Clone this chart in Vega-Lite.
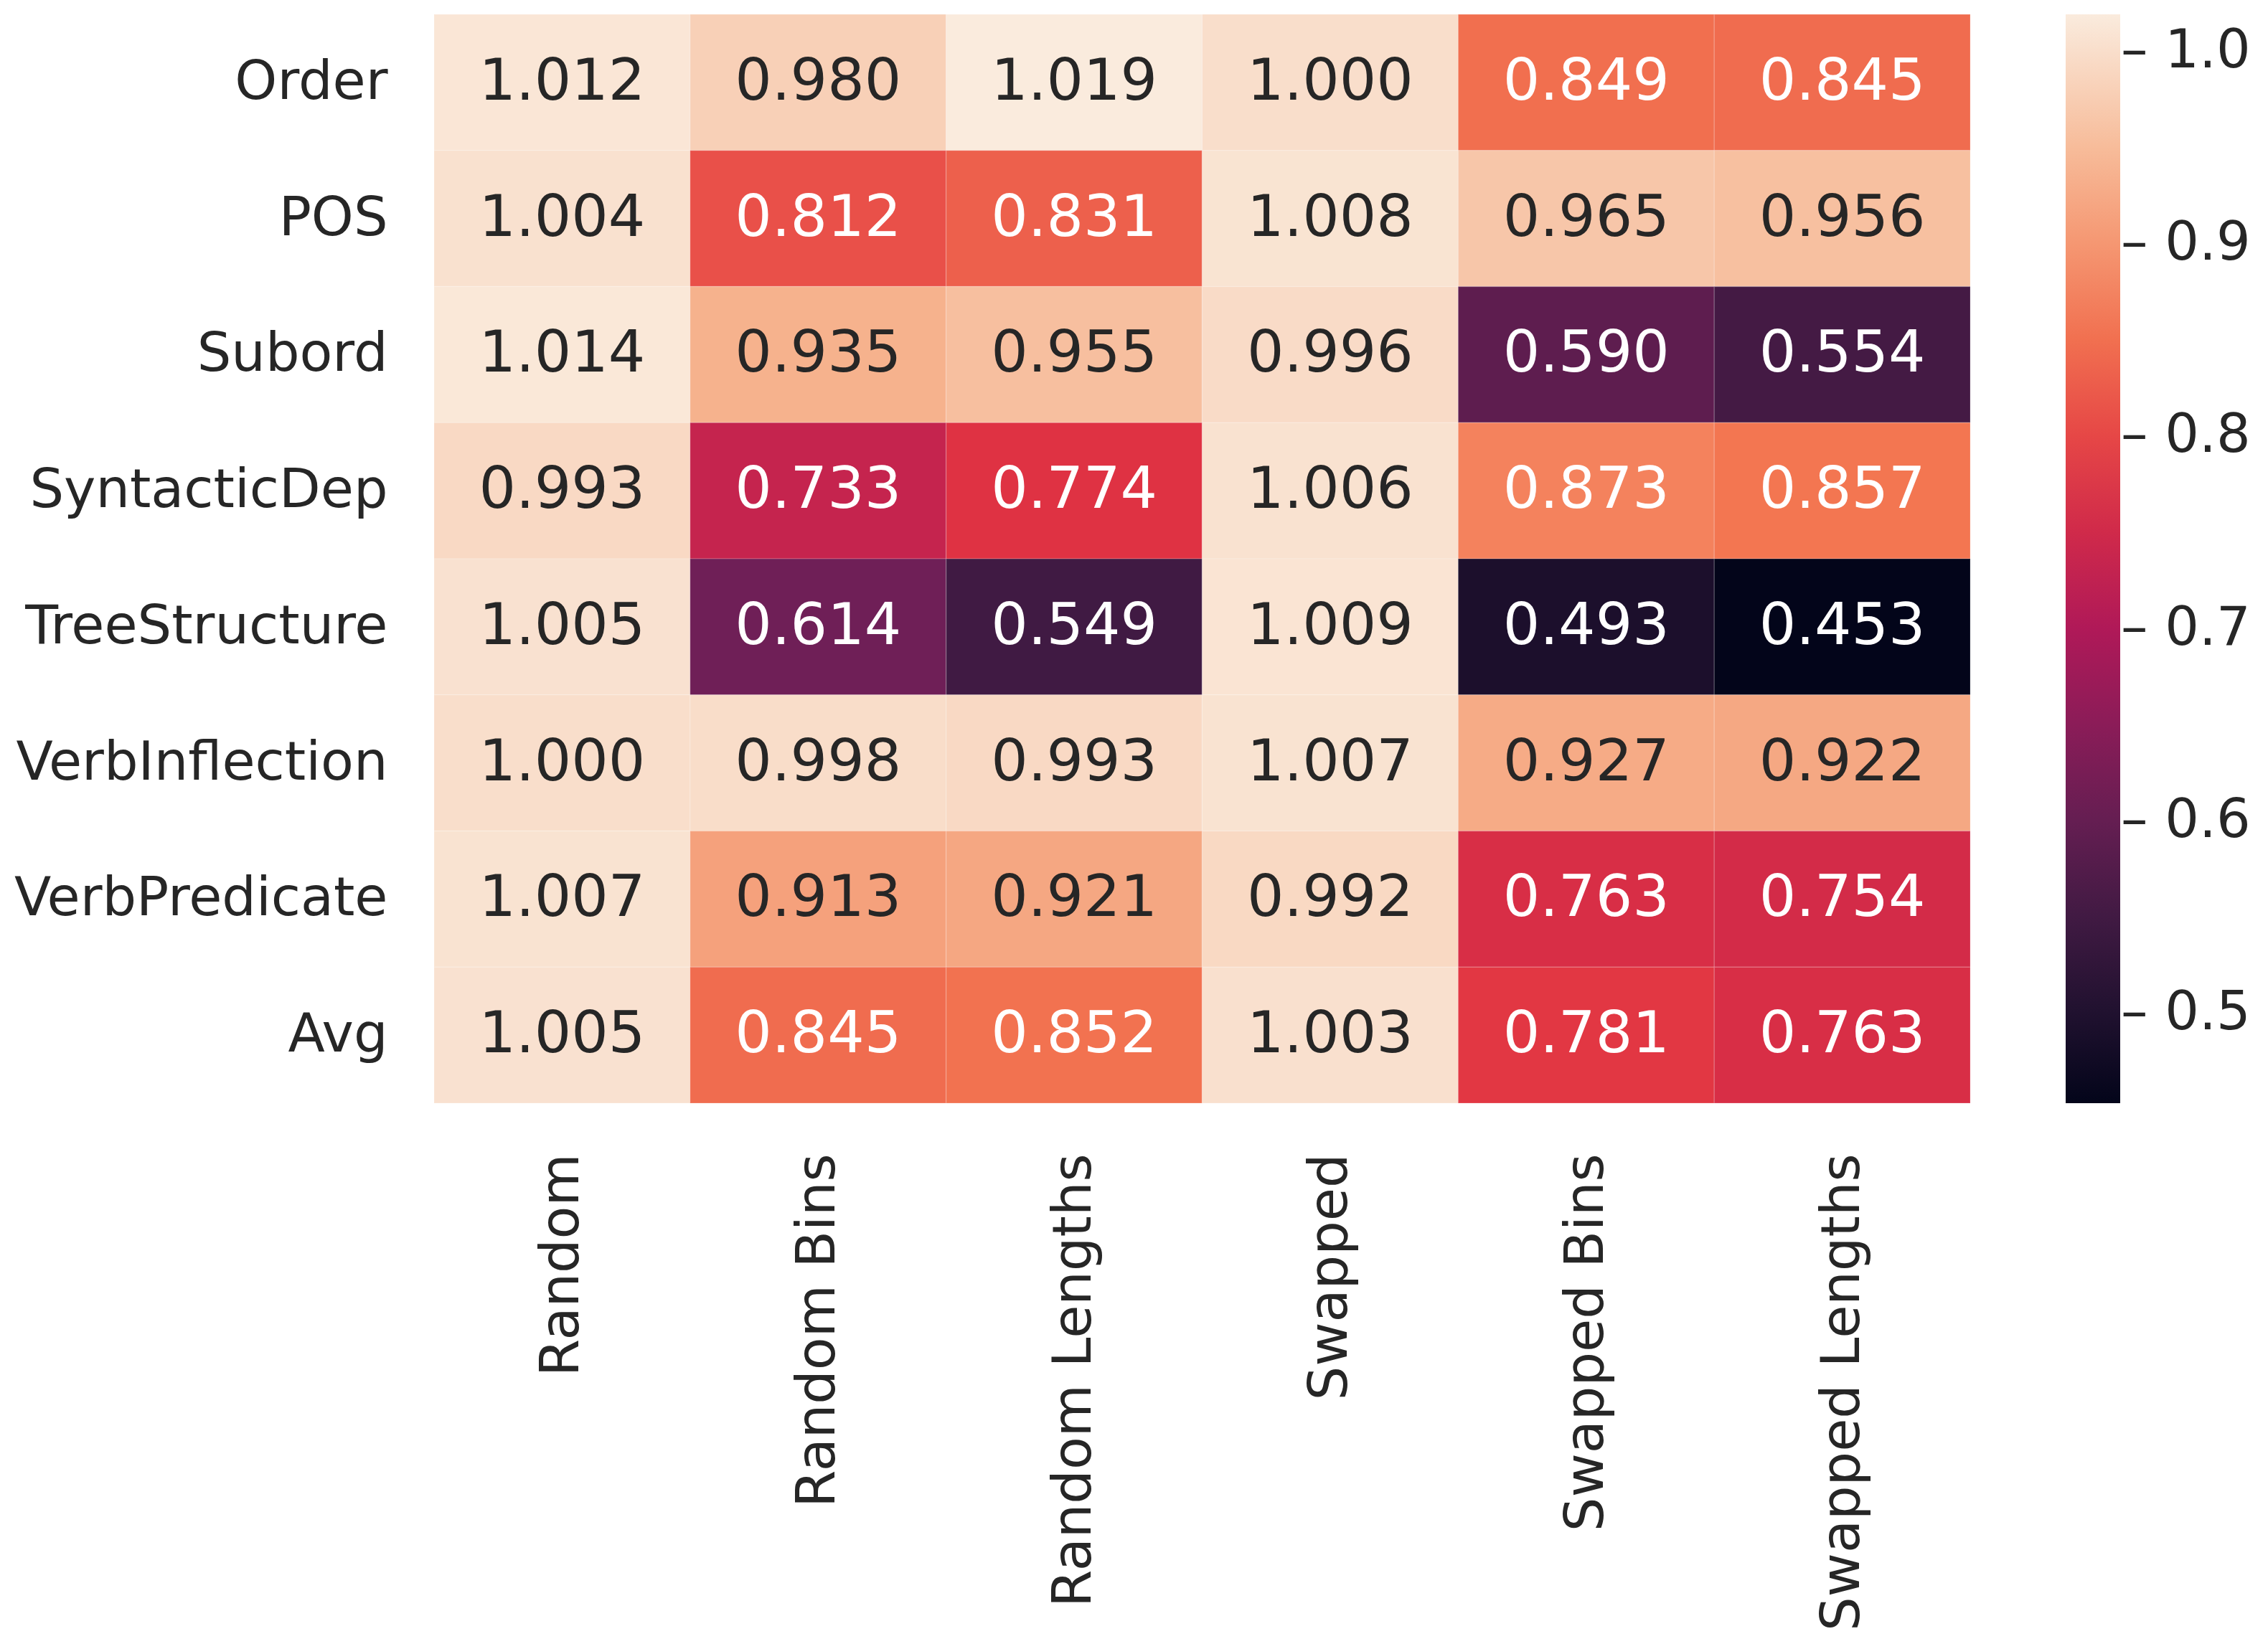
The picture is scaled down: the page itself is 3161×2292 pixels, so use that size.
{
  "$schema": "https://vega.github.io/schema/vega-lite/v6.json",
  "width": 2141,
  "height": 1518,
  "autosize": "none",
  "padding": {"left": 605, "top": 20, "right": 415, "bottom": 754},
  "background": "white",
  "config": {"view": {"stroke": null}, "font": "DejaVu Sans"},
  "data": {"values": [
    {"probe": "Order", "condition": "Random", "value": 1.012},
    {"probe": "Order", "condition": "Random Bins", "value": 0.980},
    {"probe": "Order", "condition": "Random Lengths", "value": 1.019},
    {"probe": "Order", "condition": "Swapped", "value": 1.000},
    {"probe": "Order", "condition": "Swapped Bins", "value": 0.849},
    {"probe": "Order", "condition": "Swapped Lengths", "value": 0.845},
    {"probe": "POS", "condition": "Random", "value": 1.004},
    {"probe": "POS", "condition": "Random Bins", "value": 0.812},
    {"probe": "POS", "condition": "Random Lengths", "value": 0.831},
    {"probe": "POS", "condition": "Swapped", "value": 1.008},
    {"probe": "POS", "condition": "Swapped Bins", "value": 0.965},
    {"probe": "POS", "condition": "Swapped Lengths", "value": 0.956},
    {"probe": "Subord", "condition": "Random", "value": 1.014},
    {"probe": "Subord", "condition": "Random Bins", "value": 0.935},
    {"probe": "Subord", "condition": "Random Lengths", "value": 0.955},
    {"probe": "Subord", "condition": "Swapped", "value": 0.996},
    {"probe": "Subord", "condition": "Swapped Bins", "value": 0.590},
    {"probe": "Subord", "condition": "Swapped Lengths", "value": 0.554},
    {"probe": "SyntacticDep", "condition": "Random", "value": 0.993},
    {"probe": "SyntacticDep", "condition": "Random Bins", "value": 0.733},
    {"probe": "SyntacticDep", "condition": "Random Lengths", "value": 0.774},
    {"probe": "SyntacticDep", "condition": "Swapped", "value": 1.006},
    {"probe": "SyntacticDep", "condition": "Swapped Bins", "value": 0.873},
    {"probe": "SyntacticDep", "condition": "Swapped Lengths", "value": 0.857},
    {"probe": "TreeStructure", "condition": "Random", "value": 1.005},
    {"probe": "TreeStructure", "condition": "Random Bins", "value": 0.614},
    {"probe": "TreeStructure", "condition": "Random Lengths", "value": 0.549},
    {"probe": "TreeStructure", "condition": "Swapped", "value": 1.009},
    {"probe": "TreeStructure", "condition": "Swapped Bins", "value": 0.493},
    {"probe": "TreeStructure", "condition": "Swapped Lengths", "value": 0.453},
    {"probe": "VerbInflection", "condition": "Random", "value": 1.000},
    {"probe": "VerbInflection", "condition": "Random Bins", "value": 0.998},
    {"probe": "VerbInflection", "condition": "Random Lengths", "value": 0.993},
    {"probe": "VerbInflection", "condition": "Swapped", "value": 1.007},
    {"probe": "VerbInflection", "condition": "Swapped Bins", "value": 0.927},
    {"probe": "VerbInflection", "condition": "Swapped Lengths", "value": 0.922},
    {"probe": "VerbPredicate", "condition": "Random", "value": 1.007},
    {"probe": "VerbPredicate", "condition": "Random Bins", "value": 0.913},
    {"probe": "VerbPredicate", "condition": "Random Lengths", "value": 0.921},
    {"probe": "VerbPredicate", "condition": "Swapped", "value": 0.992},
    {"probe": "VerbPredicate", "condition": "Swapped Bins", "value": 0.763},
    {"probe": "VerbPredicate", "condition": "Swapped Lengths", "value": 0.754},
    {"probe": "Avg", "condition": "Random", "value": 1.005},
    {"probe": "Avg", "condition": "Random Bins", "value": 0.845},
    {"probe": "Avg", "condition": "Random Lengths", "value": 0.852},
    {"probe": "Avg", "condition": "Swapped", "value": 1.003},
    {"probe": "Avg", "condition": "Swapped Bins", "value": 0.781},
    {"probe": "Avg", "condition": "Swapped Lengths", "value": 0.763}
  ]},
  "encoding": {
    "x": {
      "field": "condition", "type": "nominal",
      "sort": ["Random", "Random Bins", "Random Lengths", "Swapped", "Swapped Bins", "Swapped Lengths"],
      "scale": {"paddingInner": 0, "paddingOuter": 0},
      "axis": {"title": null, "orient": "bottom", "labelAngle": 270, "labelFontSize": 75, "labelColor": "#262626", "ticks": false, "tickSize": 0, "domain": false, "labelPadding": 70, "labelLimit": 2000}
    },
    "y": {
      "field": "probe", "type": "nominal",
      "sort": ["Order", "POS", "Subord", "SyntacticDep", "TreeStructure", "VerbInflection", "VerbPredicate", "Avg"],
      "scale": {"paddingInner": 0, "paddingOuter": 0},
      "axis": {"title": null, "labelFontSize": 75, "labelColor": "#262626", "ticks": false, "tickSize": 0, "domain": false, "labelPadding": 65, "labelLimit": 2000}
    }
  },
  "layer": [
    {
      "mark": {"type": "rect", "stroke": "#ffffff", "strokeWidth": 1.5, "strokeOpacity": 0.15},
      "encoding": {
        "color": {
          "field": "value", "type": "quantitative",
          "scale": {
            "domain": [0.453, 0.5339, 0.6147, 0.6956, 0.7764, 0.8573, 0.9381, 1.019],
            "range": ["#03051A", "#35193E", "#701F57", "#AD1759", "#E13342", "#F37651", "#F6B48F", "#FAEBDD"],
            "interpolate": "rgb"
          },
          "legend": {
            "title": null, "orient": "right", "direction": "vertical", "offset": 133, "padding": 0,
            "gradientLength": 1518, "gradientThickness": 76, "gradientStrokeWidth": 0,
            "labelFontSize": 75, "labelColor": "#262626", "labelOffset": 1, "labelLimit": 500,
            "values": [0.5, 0.6, 0.7, 0.8, 0.9, 1.0], "format": ".1f",
            "labelExpr": "'\u2013 ' + datum.label"
          }
        }
      }
    },
    {
      "mark": {"type": "text", "fontSize": 81, "baseline": "middle", "align": "center"},
      "encoding": {
        "text": {"field": "value", "type": "quantitative", "format": ".3f"},
        "color": {"condition": {"test": "datum.value < 0.9", "value": "#ffffff"}, "value": "#262626"}
      }
    }
  ]
}
